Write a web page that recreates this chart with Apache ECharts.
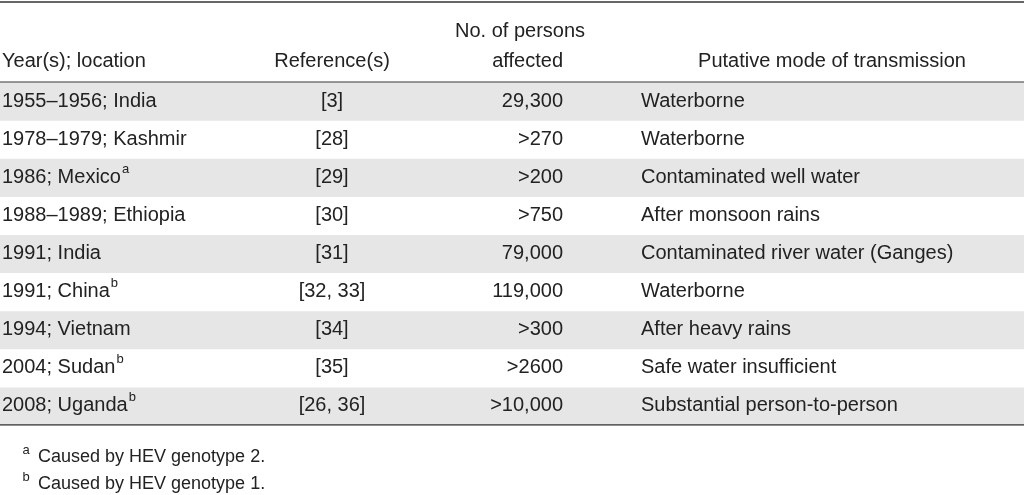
<!DOCTYPE html>
<html><head><meta charset="utf-8">
<script src="https://cdn.jsdelivr.net/npm/echarts@6/dist/echarts.min.js"></script>
<style>html,body{margin:0;padding:0;background:#fff}#c{width:1024px;height:495px}</style>
</head><body><div id="c"></div>
<script>
const years = ["1955–1956; India","1978–1979; Kashmir","1986; Mexico","1988–1989; Ethiopia","1991; India","1991; China","1994; Vietnam","2004; Sudan","2008; Uganda"];
const sups = ["","","a","","","b","","b","b"];
const refs = ["[3]","[28]","[29]","[30]","[31]","[32, 33]","[34]","[35]","[26, 36]"];
const persons = ["29,300",">270",">200",">750","79,000","119,000",">300",">2600",">10,000"];
const modes = ["Waterborne","Waterborne","Contaminated well water","After monsoon rains","Contaminated river water (Ganges)","Waterborne","After heavy rains","Safe water insufficient","Substantial person-to-person"];
const footnotes = [["a","Caused by HEV genotype 2."],["b","Caused by HEV genotype 1."]];

(function(){
const F = '"Liberation Sans", Arial, sans-serif';
const C = '#222';
const topY = 82, rh = 38.1;
const els = [];
const txt = (x,y,t,align) => els.push({type:'text',x,y,style:{text:t,fill:C,font:'20px '+F,textAlign:align,textVerticalAlign:'middle'}});
els.push({type:'line',shape:{x1:0,y1:2,x2:1024,y2:2},style:{stroke:'#333',lineWidth:1.5}});
txt(2,61,'Year(s); location','left');
txt(332,61,'Reference(s)','center');
txt(520,31,'No. of persons','center');
txt(563,61,'affected','right');
txt(832,61,'Putative mode of transmission','center');
els.push({type:'line',shape:{x1:0,y1:topY,x2:1024,y2:topY},style:{stroke:'#333',lineWidth:1.2}});
years.forEach((y,i)=>{
  const cy = topY + rh*i + rh/2;
  if(i%2===0) els.push({type:'rect',z:-1,shape:{x:0,y:topY+rh*i+0.6,width:1024,height:rh},style:{fill:'#e6e6e6'}});
  txt(2,cy,y,'left');
  if(sups[i]){
    const w = echarts.format.getTextRect ? echarts.format.getTextRect(y,'20px '+F).width : y.length*10;
    els.push({type:'text',x:2+w+1,y:cy-8,style:{text:sups[i],fill:C,font:'13px '+F,textVerticalAlign:'middle'}});
  }
  txt(332,cy,refs[i],'center');
  txt(563,cy,persons[i],'right');
  txt(641,cy,modes[i],'left');
});
const bot = topY + rh*years.length;
els.push({type:'line',shape:{x1:0,y1:bot,x2:1024,y2:bot},style:{stroke:'#333',lineWidth:1.2}});
footnotes.forEach((f,i)=>{
  const y = 457 + i*27;
  els.push({type:'text',x:26,y:y-7,style:{text:f[0],fill:C,font:'13px '+F,textAlign:'center',textVerticalAlign:'middle'}});
  els.push({type:'text',x:38,y:y,style:{text:f[1],fill:C,font:'18px '+F,textVerticalAlign:'middle'}});
});
const chart = echarts.init(document.getElementById('c'));
chart.setOption({animation:false,graphic:{elements:els}});
})();
</script></body></html>
